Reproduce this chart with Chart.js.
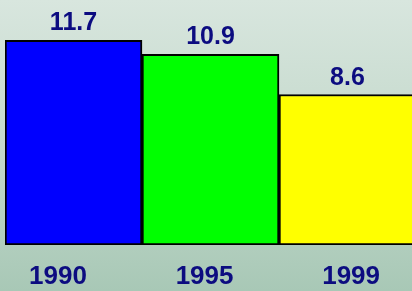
<!DOCTYPE html>
<html>
<head>
<meta charset="utf-8">
<script src="https://cdn.jsdelivr.net/npm/chart.js@4"></script>
<style>
  html, body { margin: 0; padding: 0; overflow: hidden; }
  body {
    width: 412px;
    height: 291px;
    background: linear-gradient(to bottom, #d8e6de 0%, #c4d9cc 50%, #a8c8b6 100%);
  }
  #wrap { width: 420px; height: 291px; }
</style>
</head>
<body>
<div id="wrap"><canvas id="barChart"></canvas></div>
<script>
// Chart data
const years = ["1990", "1995", "1999"];
const values = [11.7, 10.9, 8.6];
const barColors = ["#0000ff", "#00ff00", "#ffff00"];

const textColor = "#0c0c80";
const fontFamily = "'Liberation Sans', Arial, sans-serif";

// Draws the value above each bar
const valueLabels = {
  id: "valueLabels",
  afterDatasetsDraw(chart) {
    const ctx = chart.ctx;
    const meta = chart.getDatasetMeta(0);
    ctx.save();
    ctx.font = "bold 25px " + fontFamily;
    ctx.fillStyle = textColor;
    ctx.textAlign = "center";
    ctx.textBaseline = "alphabetic";
    meta.data.forEach((bar, i) => {
      ctx.fillText(values[i].toFixed(1), bar.x, bar.y - 10);
    });
    ctx.restore();
  },
};

const ctx = document.getElementById("barChart");

let barChart = new Chart(ctx, {
  type: "bar",
  data: {
    labels: years,
    datasets: [
      {
        data: values,
        backgroundColor: barColors,
        borderColor: "#000000",
        borderWidth: 2,
        borderSkipped: false,
        barPercentage: 1,
        categoryPercentage: 1,
        xAxisID: "x",
      },
    ],
  },
  options: {
    responsive: true,
    maintainAspectRatio: false,
    animation: false,
    layout: {
      padding: { top: 0, left: 5, right: 4, bottom: 0 },
    },
    plugins: {
      legend: { display: false },
      tooltip: { enabled: false },
    },
    scales: {
      x: {
        type: "category",
        display: false,
        offset: true,
      },
      // label axis, year labels sit a little off the bar centres
      xl: {
        type: "linear",
        position: "bottom",
        offset: false,
        bounds: "data",
        min: -0.362,
        max: 2.443,
        afterBuildTicks: (axis) => {
          axis.ticks = years.map((y, i) => ({ value: i }));
        },
        afterFit: (axis) => {
          axis.height = 46;
        },
        grid: { display: false, drawTicks: false },
        border: { display: false },
        ticks: {
          padding: 19,
          autoSkip: false,
          color: textColor,
          font: { family: fontFamily, size: 26, weight: "bold", lineHeight: 1 },
          maxRotation: 0,
          callback: (value) => years[value],
        },
      },
      y: {
        display: false,
        min: 0,
        max: 14,
      },
    },
  },
  plugins: [valueLabels],
});
</script>
</body>
</html>
